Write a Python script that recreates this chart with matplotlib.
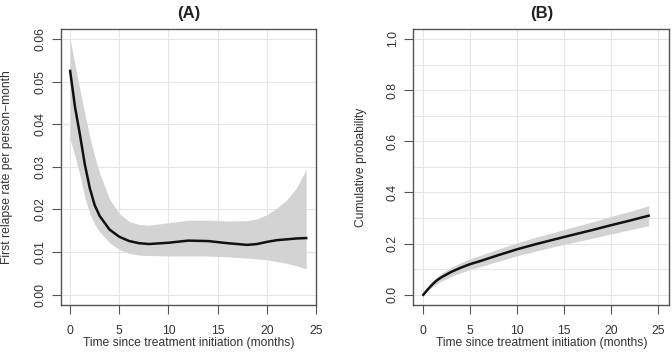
import matplotlib
matplotlib.use("Agg")
import matplotlib.pyplot as plt

plt.rcParams['font.family'] = ['Liberation Sans', 'DejaVu Sans']

# (A) first relapse rate per person-month, with confidence band
months_a = [0, 0.5, 1, 1.5, 2, 2.5, 3, 4, 5, 6, 7, 8, 10, 12, 14, 16, 18, 19, 20, 21, 22, 23, 24]
rate = [0.0525, 0.0440, 0.0375, 0.0305, 0.0250, 0.0210, 0.0185, 0.0153, 0.0136, 0.0126, 0.0121, 0.0119,
        0.0122, 0.0127, 0.0126, 0.0121, 0.0117, 0.0119, 0.0124, 0.0128, 0.0130, 0.0132, 0.0133]
rate_upper = [0.0600, 0.0540, 0.0480, 0.0425, 0.0370, 0.0325, 0.0285, 0.0225, 0.0190, 0.0172, 0.0165, 0.0163,
              0.0169, 0.0175, 0.0175, 0.0173, 0.0174, 0.0178, 0.0188, 0.0203, 0.0222, 0.0250, 0.0294]
rate_lower = [0.0365, 0.0325, 0.0280, 0.0228, 0.0190, 0.0165, 0.0148, 0.0122, 0.0106, 0.0097, 0.0093, 0.0092,
              0.0091, 0.0091, 0.0091, 0.0089, 0.0086, 0.0084, 0.0082, 0.0078, 0.0074, 0.0068, 0.0061]

# (B) cumulative probability of first relapse
months_b = [0, 0.5, 1, 1.5, 2, 3, 4, 5, 6, 8, 10, 12, 15, 18, 20, 22, 24]
cum = [0, 0.022, 0.042, 0.058, 0.070, 0.090, 0.106, 0.120, 0.131, 0.155, 0.178, 0.198, 0.226, 0.253, 0.272, 0.290, 0.309]
cum_upper = [0, 0.027, 0.052, 0.071, 0.085, 0.108, 0.126, 0.141, 0.153, 0.179, 0.203, 0.225, 0.255, 0.285, 0.306, 0.326, 0.348]
cum_lower = [0, 0.017, 0.032, 0.045, 0.055, 0.072, 0.086, 0.099, 0.109, 0.131, 0.153, 0.171, 0.197, 0.221, 0.238, 0.254, 0.270]

x_ticks = [0, 5, 10, 15, 20, 25]
a_yticks = [0.00, 0.01, 0.02, 0.03, 0.04, 0.05, 0.06]
b_yticks = [0.0, 0.2, 0.4, 0.6, 0.8, 1.0]
b_grid = [0.0, 0.1, 0.2, 0.3, 0.4, 0.5, 0.6, 0.7, 0.8, 0.9, 1.0]

text_col = '#333333'
frame_col = '#555555'
grid_col = '#e6e6e6'
band_col = '#d3d3d3'

fig = plt.figure(figsize=(6.72, 3.52), dpi=100)
ax_a = fig.add_axes([0.0903, 0.1335, 0.380, 0.785])
ax_b = fig.add_axes([0.615, 0.1335, 0.381, 0.785])


def style_axes(ax, yticks, ylabels, hgrid, xlim, ylim):
    ax.set_xlim(*xlim)
    ax.set_ylim(*ylim)
    for v in x_ticks:
        ax.axvline(v, color=grid_col, lw=0.8, zorder=0)
    for v in hgrid:
        ax.axhline(v, color=grid_col, lw=0.8, zorder=0)
    ax.set_xticks(x_ticks)
    ax.set_xticklabels([str(t) for t in x_ticks])
    ax.set_yticks(yticks)
    ax.set_yticklabels(ylabels, rotation=90, va='center')
    ax.tick_params(direction='out', length=6.5, width=0.8, color=frame_col,
                   labelcolor=text_col, labelsize=8.75)
    ax.tick_params(axis='x', pad=8)
    ax.tick_params(axis='y', pad=4)
    for s in ax.spines.values():
        s.set_color(frame_col)
        s.set_linewidth(1.0)
    ax.set_xlabel('Time since treatment initiation (months)', fontsize=8.75, color=text_col, labelpad=0)


# panel A
ax_a.fill_between(months_a, rate_lower, rate_upper, color=band_col, lw=0, zorder=1)
ax_a.plot(months_a, rate, color='#111111', lw=1.8, zorder=2)
style_axes(ax_a, a_yticks, ['%.2f' % t for t in a_yticks], a_yticks, (-0.96, 24.96), (-0.0024, 0.0624))
ax_a.set_ylabel('First relapse rate per person\u2212month', fontsize=8.75, color=text_col, labelpad=15)
ax_a.set_title('(A)', fontsize=12, fontweight='bold', color='#222222', pad=8)

# panel B
ax_b.fill_between(months_b, cum_lower, cum_upper, color=band_col, lw=0, zorder=1)
ax_b.plot(months_b, cum, color='#111111', lw=1.8, zorder=2)
style_axes(ax_b, b_yticks, ['%.1f' % t for t in b_yticks], b_grid, (-1.07, 26.2), (-0.04, 1.04))
ax_b.set_ylabel('Cumulative probability', fontsize=8.75, color=text_col, labelpad=14)
ax_b.set_title('(B)', fontsize=12, fontweight='bold', color='#222222', pad=8)

fig.savefig('out.png', dpi=100)
